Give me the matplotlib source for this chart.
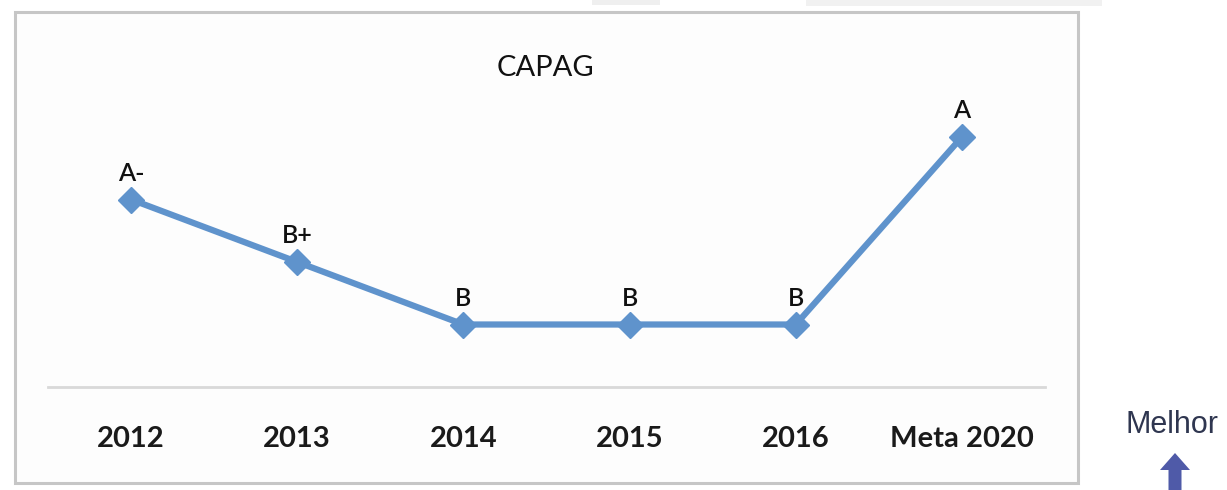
import numpy as np
import matplotlib
matplotlib.use('Agg')
from matplotlib import pyplot as plt
from matplotlib.patches import Rectangle, FancyArrow

# rating scale used for the vertical position of each point
rating_levels = {'B': 0, 'B+': 1, 'A-': 2, 'A': 3}

years = ['2012', '2013', '2014', '2015', '2016', 'Meta 2020']
ratings = ['A-', 'B+', 'B', 'B', 'B', 'A']
values = [rating_levels[r] for r in ratings]

W, H = 1227, 490
fig = plt.figure(figsize=(W / 100, H / 100), dpi=100)
fig.patch.set_facecolor('white')

def px(x0, y0, x1, y1):
    # pixel box (top-left origin) -> figure fraction rect
    return [x0 / W, 1 - y1 / H, (x1 - x0) / W, (y1 - y0) / H]

# faint screenshot fragments along the top edge
fig.patches.append(Rectangle((806 / W, 1 - 6 / H), (1102 - 806) / W, 6 / H,
                             transform=fig.transFigure, facecolor='#f1f1f1',
                             edgecolor='none', zorder=-2))
fig.patches.append(Rectangle((592 / W, 1 - 5 / H), (660 - 592) / W, 5 / H,
                             transform=fig.transFigure, facecolor='#efefef',
                             edgecolor='none', zorder=-2))

# chart frame
fig.patches.append(Rectangle((15 / W, 1 - 483 / H), (1078 - 15) / W, (483 - 12) / H,
                             transform=fig.transFigure, facecolor='#fdfdfd',
                             edgecolor='#c6c6c6', linewidth=2.2, zorder=-1))

ax = fig.add_axes(px(48, 12, 1045, 387))
ax.set_facecolor('none')
x = np.arange(len(years))
ax.plot(x, values, color='#5f93cc', linewidth=4.5, marker='D', markersize=13,
        markeredgecolor='#5f93cc', markerfacecolor='#5f93cc', solid_joinstyle='round')

for xi, v, r in zip(x, values, ratings):
    ax.annotate(r, (xi, v), xytext=(0, 19), textcoords='offset points',
                ha='center', va='center', fontsize=18, fontfamily='Lato',
                fontweight='semibold', color='#111111')

ax.set_xlim(-0.5, len(years) - 0.5)
ax.set_ylim(-1, 5)
ax.set_yticks([])
ax.set_xticks(x)
ax.set_xticklabels(years, fontsize=21, fontfamily='Lato', fontweight='bold', color='#1a1a1a')
ax.tick_params(axis='x', length=0, pad=28)
for side in ['top', 'left', 'right']:
    ax.spines[side].set_visible(False)
ax.spines['bottom'].set_color('#d9d9d9')
ax.spines['bottom'].set_linewidth(2)

fig.text(545 / W, 1 - 68 / H, 'CAPAG', ha='center', va='center', fontsize=21,
         fontfamily='Lato', color='#111111')

fig.text(1172 / W, 1 - 425 / H, 'Melhor', ha='center', va='center', fontsize=22,
         fontfamily='Liberation Sans', color='#2f3650')

fig.patches.append(FancyArrow(1175 / W, 1 - 495 / H, 0, 42 / H, width=13 / W,
                              head_width=30 / W, head_length=17 / H,
                              length_includes_head=True, transform=fig.transFigure,
                              facecolor='#4f5aa8', edgecolor='none'))

fig.savefig('out.png', dpi=100)
